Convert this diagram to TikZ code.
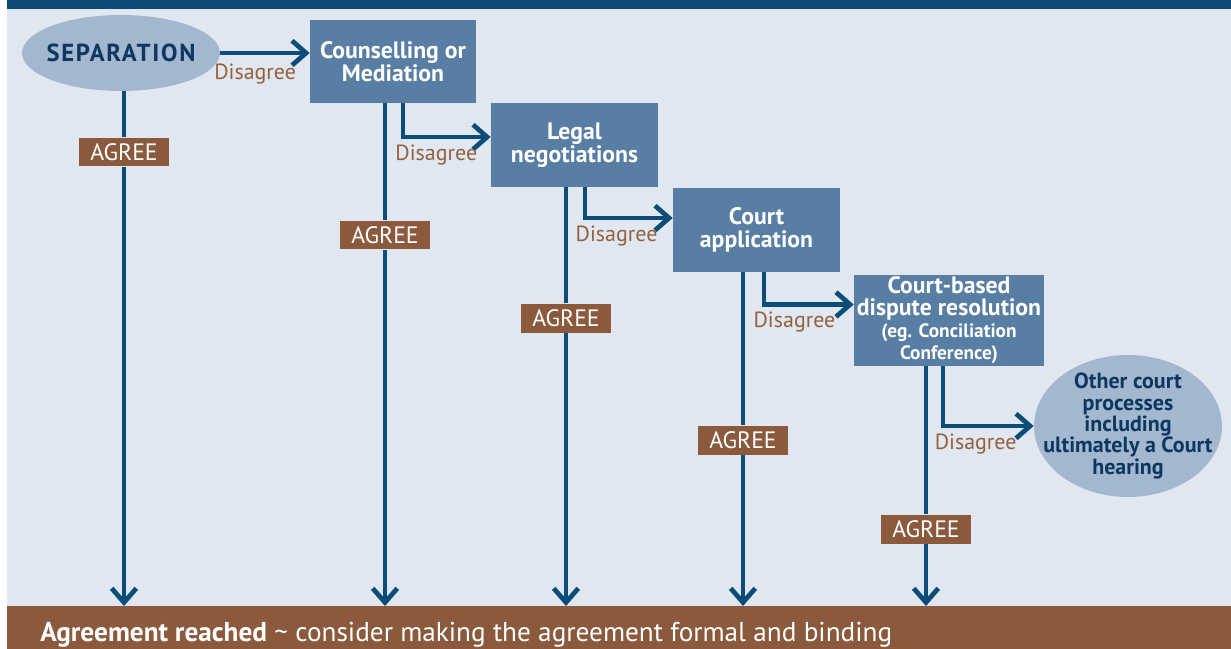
\documentclass[tikz,border=0pt]{standalone}
\usepackage{fontspec}
\setmainfont{PT Sans}
\usetikzlibrary{positioning, arrows.meta, shapes.geometric, calc}

\definecolor{bgblue}{HTML}{E0E7F0}
\definecolor{barblue}{HTML}{0B4A74}
\definecolor{lineblue}{HTML}{0B4D78}
\definecolor{boxblue}{HTML}{587FA3}
\definecolor{ovalblue}{HTML}{A3B7CF}
\definecolor{textblue}{HTML}{0B3760}
\definecolor{agreebrown}{HTML}{8B5A3C}
\definecolor{disbrown}{HTML}{94613F}

\begin{document}
\begin{tikzpicture}[
x=0.02cm, y=-0.02cm,
box/.style={rectangle, fill=boxblue, text=white, align=center, inner sep=0pt,
  font=\bfseries\fontsize{13.5}{13}\selectfont},
oval/.style={ellipse, fill=ovalblue, inner sep=0pt},
ovaltext/.style={text=textblue, align=center, inner sep=0pt},
agree/.style={rectangle, fill=agreebrown, text=white, inner sep=0pt,
  minimum width=1.8cm, minimum height=0.58cm, font=\fontsize{13.5}{15}\selectfont},
disagree/.style={below=2pt, text=disbrown, inner sep=1pt, font=\fontsize{12.5}{14}\selectfont},
flow/.style={draw=lineblue, line width=2.7pt},
arrow/.style={flow, -{Straight Barb[length=8pt, width=14pt]}}
]
\useasboundingbox (0,0) rectangle (1231,649);

% background and bars
\fill[bgblue] (7,9) rectangle (1231,606);
\fill[barblue] (7,0) rectangle (1231,9);
\node[rectangle, fill=agreebrown, inner sep=0pt, minimum width=24.48cm, minimum height=0.86cm,
  anchor=north west] (band) at (7,606) {};
\node[text=white, anchor=base west, inner sep=0pt, font=\fontsize{15.5}{17}\selectfont] (bandtext) at (40,641)
  {\textbf{Agreement reached} \textasciitilde\ consider making the agreement formal and binding};

% stages
\node[oval, minimum width=3.96cm, minimum height=1.52cm,
  label={[ovaltext, font=\bfseries\fontsize{14}{15}\selectfont\addfontfeature{LetterSpace=7}]center:SEPARATION}]
  (sep) at (121,53) {};
\node[box, minimum width=3.32cm, minimum height=1.66cm] (couns) at (393,61.5) {Counselling or\\Mediation};
\node[box, minimum width=3.34cm, minimum height=1.68cm] (legal) at (574.5,145) {Legal\\negotiations};
\node[box, minimum width=3.34cm, minimum height=1.68cm] (court) at (756.5,230) {Court\\application};
\node[box, minimum width=3.8cm, minimum height=1.82cm, font=\bfseries\fontsize{13.5}{12.5}\selectfont] (cbdr) at (949,320.5)
  {Court-based\\dispute resolution\\{\fontsize{11}{12.5}\selectfont (eg. Conciliation}\\{\fontsize{11}{12.5}\selectfont Conference)}};
\node[oval, minimum width=3.76cm, minimum height=2.84cm,
  label={[ovaltext, font=\bfseries\fontsize{12.5}{12.2}\selectfont]center:Other court\\processes\\including\\ultimately a Court\\hearing}]
  (other) at (1128,426) {};

% agree labels
\node[agree] (ag0) at (124,152) {AGREE};
\node[agree] (ag1) at (385,235) {AGREE};
\node[agree] (ag2) at (566,318) {AGREE};
\node[agree] (ag3) at (743,440) {AGREE};
\node[agree] (ag4) at (926,529) {AGREE};

% agree lines
\draw[flow] (sep.south -| ag0) -- (ag0);
\draw[arrow] (ag0) -- (ag0 |- band.north);
\draw[flow] (couns.south -| ag1) -- (ag1);
\draw[arrow] (ag1) -- (ag1 |- band.north);
\draw[flow] (legal.south -| ag2) -- (ag2);
\draw[arrow] (ag2) -- (ag2 |- band.north);
\draw[flow] (court.south -| ag3) -- (ag3);
\draw[arrow] (ag3) -- (ag3 |- band.north);
\draw[flow] (cbdr.south -| ag4) -- (ag4);
\draw[arrow] (ag4) -- (ag4 |- band.north);

% disagree paths
\draw[arrow] (sep.east) -- node[disagree, pos=0.39, below=4pt] {Disagree} (sep.east -| couns.west);
\draw[arrow] ($(couns.south)+(10,0)$) |- node[disagree, pos=0.69] {Disagree} ($(legal.west)+(0,-8)$);
\draw[arrow] ($(legal.south)+(10.5,0)$) |- node[disagree, pos=0.68] {Disagree} ($(court.west)+(0,-12)$);
\draw[arrow] ($(court.south)+(7.5,0)$) |- node[disagree, pos=0.67] {Disagree} ($(cbdr.west)+(0,-16)$);
\draw[arrow] ($(cbdr.south)+(-6,0)$) |- node[disagree, pos=0.68] {Disagree} (other.west);

\end{tikzpicture}
\end{document}
